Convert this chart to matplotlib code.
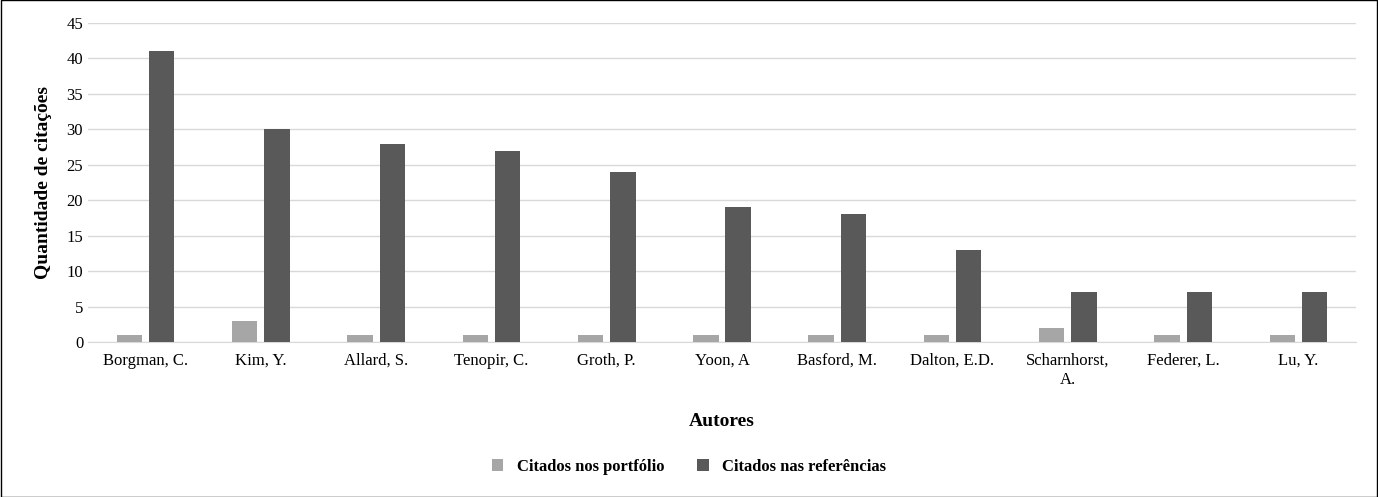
import matplotlib
matplotlib.use("Agg")
import matplotlib.pyplot as plt
import numpy as np

authors = ["Borgman, C.", "Kim, Y.", "Allard, S.", "Tenopir, C.", "Groth, P.", "Yoon, A",
           "Basford, M.", "Dalton, E.D.", "Scharnhorst,\nA.", "Federer, L.", "Lu, Y."]
portfolio = [1, 3, 1, 1, 1, 1, 1, 1, 2, 1, 1]
referencias = [41, 30, 28, 27, 24, 19, 18, 13, 7, 7, 7]

plt.rcParams["font.family"] = "Liberation Serif"
fig = plt.figure(figsize=(13.78, 4.97), dpi=100)
ax = fig.add_axes([88/1378, 1-342/497, (1356-88)/1378, (342-23)/497])
x = np.arange(len(authors))
w = 0.22
ax.bar(x - 0.14, portfolio, w, color="#a6a6a6", label="Citados nos portfólio", zorder=3)
ax.bar(x + 0.14, referencias, w, color="#595959", label="Citados nas referências", zorder=3)
ax.set_xlim(-0.5, len(authors) - 0.5)
ax.set_ylim(0, 45)
ax.set_yticks(range(0, 46, 5))
ax.grid(axis="y", color="#d9d9d9", linewidth=1, zorder=0)
ax.set_xticks(x)
ax.set_xticklabels(authors, fontsize=12)
ax.tick_params(axis="y", labelsize=12, length=0)
ax.tick_params(axis="x", length=0, pad=8)
for s in ["top", "right", "left"]:
    ax.spines[s].set_visible(False)
ax.spines["bottom"].set_color("#d9d9d9")
ax.set_xlabel("Autores", fontsize=14, fontweight="bold", labelpad=18)
ax.set_ylabel("Quantidade de citações", fontsize=14, fontweight="bold", labelpad=10)
fig.legend(loc="center", bbox_to_anchor=(0.5, 1-467/497), ncol=2, frameon=False,
           prop={"weight": "bold", "size": 12}, handlelength=0.7, handleheight=0.7,
           columnspacing=2)
fig.patches.append(plt.Rectangle((0.0005, 0.001), 0.999, 0.998, transform=fig.transFigure,
                                 fill=False, edgecolor="black", linewidth=1))
fig.savefig("out.png", dpi=100)
